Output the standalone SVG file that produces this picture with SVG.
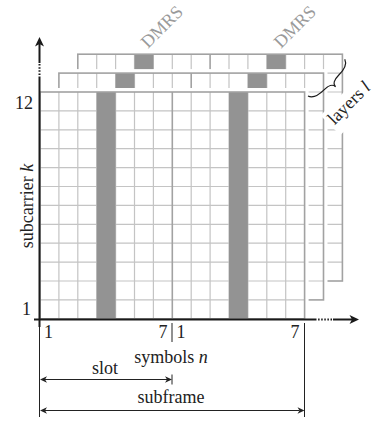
<svg xmlns="http://www.w3.org/2000/svg" xmlns:xlink="http://www.w3.org/1999/xlink" width="373" height="424" viewBox="0 0 373 424">
<style>
text{font-family:"Liberation Serif","Times New Roman",serif;font-size:18px;fill:#222}
.dm{fill:#9a9a9a}
.grid{fill:none;stroke:#c4c4c4;stroke-width:1.2}
.bord{fill:none;stroke:#a2a2a2;stroke-width:1.6}
.dmrs{fill:#939393}
.axis{fill:none;stroke:#1a1a1a;stroke-width:2}
.dot{fill:none;stroke:#1a1a1a;stroke-width:2;stroke-dasharray:1.5 1.6}
.thin{fill:none;stroke:#222;stroke-width:1}
</style>
<defs>
<marker id="ah" markerUnits="userSpaceOnUse" viewBox="-4 -6 12 12" refX="0" refY="0" markerWidth="12" markerHeight="12" orient="auto">
<path d="M-2.5 -4.5L7 0L-2.5 4.5L0 0Z" fill="#1a1a1a"/>
</marker>
<marker id="dh" markerUnits="userSpaceOnUse" viewBox="-4 -5 10 10" refX="0" refY="0" markerWidth="10" markerHeight="10" orient="auto-start-reverse">
<path d="M-2 -3.2L5 0L-2 3.2L0 0Z" fill="#222"/>
</marker>
<g id="layer">
<rect x="-4" y="-4" width="272.6" height="234.8" fill="#fff"/>
<path class="grid" d="M18.9 0V226.8M37.8 0V226.8M56.7 0V226.8M75.6 0V226.8M94.5 0V226.8M113.4 0V226.8M151.2 0V226.8M170.1 0V226.8M189 0V226.8M207.9 0V226.8M226.8 0V226.8M245.7 0V226.8M0 18.9H264.6M0 37.8H264.6M0 56.7H264.6M0 75.6H264.6M0 94.5H264.6M0 113.4H264.6M0 132.3H264.6M0 151.2H264.6M0 170.1H264.6M0 189H264.6M0 207.9H264.6"/>
<rect class="dmrs" x="56.7" y="0" width="18.9" height="226.8"/>
<rect class="dmrs" x="189" y="0" width="18.9" height="226.8"/>
<path class="bord" d="M132.3 0V226.8"/>
<rect class="bord" x="0" y="0" width="264.6" height="226.8"/>
</g>
</defs>
<g id="layer3"><use xlink:href="#layer" href="#layer" transform="translate(77.8,54.2)"/></g>
<g id="layer2"><use xlink:href="#layer" href="#layer" transform="translate(58.9,73.1)"/></g>
<g id="layer1"><use xlink:href="#layer" href="#layer" transform="translate(40,92)"/></g>
<g id="connectors">
<path class="axis" d="M39.5 327V78"/>
<path class="dot" d="M39.5 78V63"/>
<path class="axis" d="M39.5 63V44" marker-end="url(#ah)"/>
<path class="axis" d="M34 319.5H315"/>
<path class="dot" d="M315 319.5H333"/>
<path class="axis" d="M333 319.5H352" marker-end="url(#ah)"/>
<path class="thin" d="M39.5 327V417M304.5 323V417M172 323V342M172 374.5V384.5"/>
<path class="thin" d="M45 379.5H167" marker-start="url(#dh)" marker-end="url(#dh)"/>
<path class="thin" d="M45 410.5H299.5" marker-start="url(#dh)" marker-end="url(#dh)"/>
<path d="M0 0C2 6 10 7 16 7C22 7 26 9 26 13C26 9 30 7 36 7C42 7 50 6 52 0" transform="translate(308,96) rotate(-45)" fill="none" stroke="#1a1a1a" stroke-width="1.2"/>
</g>
<g id="labels">
<text x="48.5" y="338" text-anchor="middle">1</text>
<text x="163" y="338" text-anchor="middle">7</text>
<text x="181" y="338" text-anchor="middle">1</text>
<text x="295" y="338" text-anchor="middle">7</text>
<text x="33" y="108.5" text-anchor="end">12</text>
<text x="31" y="315" text-anchor="end">1</text>
<text transform="translate(32.5,206) rotate(-90)" text-anchor="middle">subcarrier <tspan font-style="italic">k</tspan></text>
<text x="171" y="362.5" text-anchor="middle">symbols <tspan font-style="italic">n</tspan></text>
<text x="105" y="373.5" text-anchor="middle">slot</text>
<text x="171" y="403" text-anchor="middle">subframe</text>
<text class="dm" transform="translate(166,31) rotate(-45)" text-anchor="middle">DMRS</text>
<text class="dm" transform="translate(299,31) rotate(-45)" text-anchor="middle">DMRS</text>
<g id="layers-label" transform="translate(353,107) rotate(-45)">
<rect x="-29" y="-17" width="58" height="28" fill="#fff"/>
<text x="0" y="0" text-anchor="middle">layers <tspan font-style="italic">l</tspan></text>
</g>
</g>
</svg>
